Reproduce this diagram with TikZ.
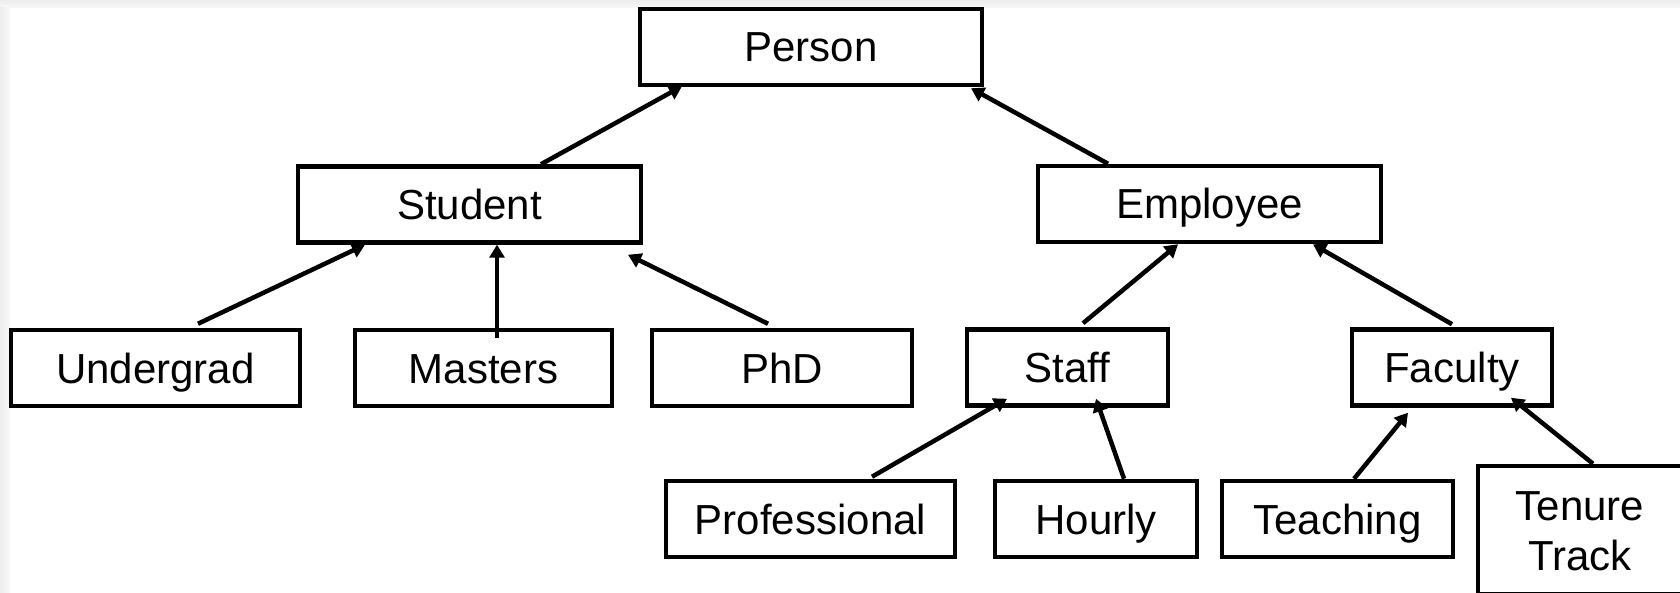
\documentclass[tikz,border=0pt]{standalone}
\usepackage{fontspec}
\setmainfont{Liberation Sans}
\usetikzlibrary{arrows.meta}

\begin{document}
\begin{tikzpicture}[x=1pt,y=-1pt,
  classbox/.style={draw=black, line width=4.5pt, fill=white, rectangle,
    inner sep=0pt, minimum height=76pt,
    font=\fontsize{42}{50}\selectfont, text height=30pt, text depth=0pt},
  isa/.style={line width=4.5pt, -{Triangle[length=13pt,width=15pt]}}]
  \useasboundingbox (0,0) rectangle (1680,593);
  % page background with a faint grey frame at the top and left
  \fill[white] (0,0) rectangle (1680,593);
  \shade[top color=gray!14, bottom color=gray!5] (0,0) rectangle (1680,8);
  \shade[left color=gray!14, right color=gray!5] (0,8) rectangle (10,593);

  % class hierarchy
  \node[classbox, minimum width=342pt] (person)   at (811,47)      {Person};
  \node[classbox, minimum width=343pt] (student)  at (469.5,204.5) {Student};
  \node[classbox, minimum width=343pt] (employee) at (1209.5,204)  {Employee};
  \node[classbox, minimum width=289pt] (undergrad) at (155.5,368)  {Undergrad};
  \node[classbox, minimum width=257pt] (masters)  at (483.5,368)   {Masters};
  \node[classbox, minimum width=260pt] (phd)      at (782,368)     {PhD};
  \node[classbox, minimum width=201pt] (staff)    at (1067.5,367.5) {Staff};
  \node[classbox, minimum width=200pt] (faculty)  at (1452,367.5)  {Faculty};
  \node[classbox, minimum width=289pt] (professional) at (810.5,519) {Professional};
  \node[classbox, minimum width=202pt] (hourly)   at (1096,519)    {Hourly};
  \node[classbox, minimum width=231pt] (teaching) at (1337.5,519)  {Teaching};
  \node[classbox, minimum width=204pt, minimum height=128pt, align=center,
        text height=80pt, text depth=0pt] (tenure) at (1580,530) {Tenure\\Track};

  % generalisation arrows
  \draw[isa] ([xshift=71.5pt]student.north) -- ([xshift=-129pt,yshift=1pt]person.south);
  \draw[isa] ([xshift=-101.5pt]employee.north) -- ([xshift=160pt,yshift=-1pt]person.south);
  \draw[isa] ([xshift=42.5pt,yshift=4pt]undergrad.north) -- ([xshift=-104.5pt]student.south);
  \draw[isa] ([xshift=13.5pt,yshift=-10pt]masters.north) -- ([xshift=27.5pt]student.south);
  \draw[isa] ([xshift=-14pt,yshift=4pt]phd.north) -- ([xshift=158.5pt,yshift=-10pt]student.south);
  \draw[isa] ([xshift=15.5pt,yshift=4pt]staff.north) -- ([xshift=-31.5pt]employee.south);
  \draw[isa] ([yshift=3pt]faculty.north) -- ([xshift=103.5pt]employee.south);
  \draw[isa] ([xshift=61.5pt,yshift=2pt]professional.north) -- ([xshift=-60.5pt,yshift=9pt]staff.south);
  \draw[isa] ([xshift=28pt]hourly.north) -- ([xshift=28.5pt,yshift=9pt]staff.south);
  \draw[isa] ([xshift=16.5pt]teaching.north) -- ([xshift=-44pt,yshift=-5pt]faculty.south);
  \draw[isa] ([xshift=13pt]tenure.north) -- ([xshift=59pt,yshift=10pt]faculty.south);
\end{tikzpicture}
\end{document}
